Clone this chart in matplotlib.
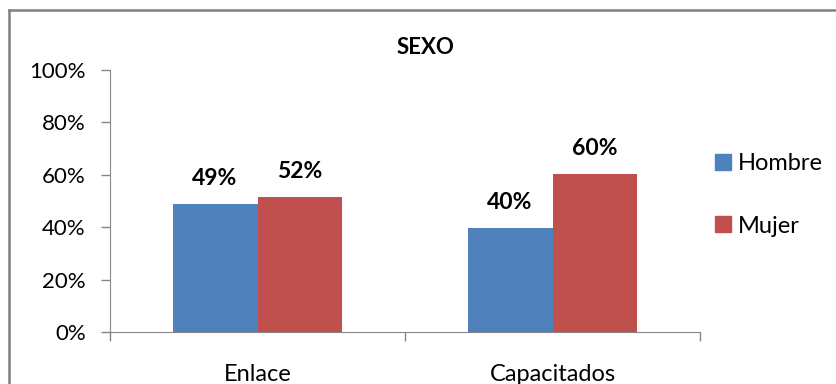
import matplotlib.pyplot as plt
from matplotlib.lines import Line2D
from matplotlib.patches import Patch
import numpy as np

# Datos
categorias = ['Enlace', 'Capacitados']
hombre = [0.487, 0.397]
mujer = [0.516, 0.603]
series = ['Hombre', 'Mujer']
colores = ['#4F81BD', '#C0504D']
yticks = [0, 0.2, 0.4, 0.6, 0.8, 1.0]

plt.rcParams['font.family'] = ['Lato', 'DejaVu Sans']
gris = '#868686'

fig = plt.figure(figsize=(8.37, 3.84), dpi=100)
ax = fig.add_axes([110 / 837, 52 / 384, 590 / 837, 262 / 384])

x = np.arange(len(categorias))
w = 0.288
b1 = ax.bar(x - w / 2, hombre, w, color=colores[0], label=series[0])
b2 = ax.bar(x + w / 2, mujer, w, color=colores[1], label=series[1])

for barras in (b1, b2):
    for r in barras:
        v = r.get_height()
        ax.annotate(f'{v:.0%}', (r.get_x() + r.get_width() / 2, v),
                    xytext=(0, 11), textcoords='offset points',
                    ha='center', va='bottom', fontsize=16.5, fontweight='bold')

ax.set_xlim(-0.5, len(categorias) - 0.5)
ax.set_ylim(0, 1)
ax.set_yticks(yticks)
ax.set_yticklabels([f'{t:.0%}' for t in yticks])

# ticks del eje x en los limites de categoria, etiquetas en el centro
ax.set_xticks(np.arange(len(categorias) + 1) - 0.5)
ax.set_xticklabels([])
ax.set_xticks(x, minor=True)
ax.set_xticklabels(categorias, minor=True)
ax.tick_params(axis='x', which='major', length=6.5, color=gris, width=1)
ax.tick_params(axis='x', which='minor', length=0, pad=23, labelsize=17)
ax.tick_params(axis='y', length=6.5, color=gris, width=1, labelsize=16, pad=11)

for s in ['top', 'right']:
    ax.spines[s].set_visible(False)
for s in ['left', 'bottom']:
    ax.spines[s].set_color(gris)

fig.text(425 / 837, 1 - 48 / 384, 'SEXO', ha='center', va='center',
         fontsize=16, fontweight='bold')

handles = [Patch(color=c) for c in colores]
fig.legend(handles, series, loc='center left', bbox_to_anchor=(706 / 837, 1 - 195 / 384),
           frameon=False, fontsize=17, handlelength=0.65, handleheight=0.65,
           handletextpad=0.3, labelspacing=1.75, borderaxespad=0)

# borde del grafico
fig.add_artist(Line2D([9 / 837, 9 / 837], [0, 1 - 9.5 / 384], color='#808080', lw=1.8,
                      transform=fig.transFigure))
fig.add_artist(Line2D([9 / 837, 1], [1 - 9.5 / 384, 1 - 9.5 / 384], color='#808080', lw=1.8,
                      transform=fig.transFigure))

fig.savefig('out.png', dpi=100)
